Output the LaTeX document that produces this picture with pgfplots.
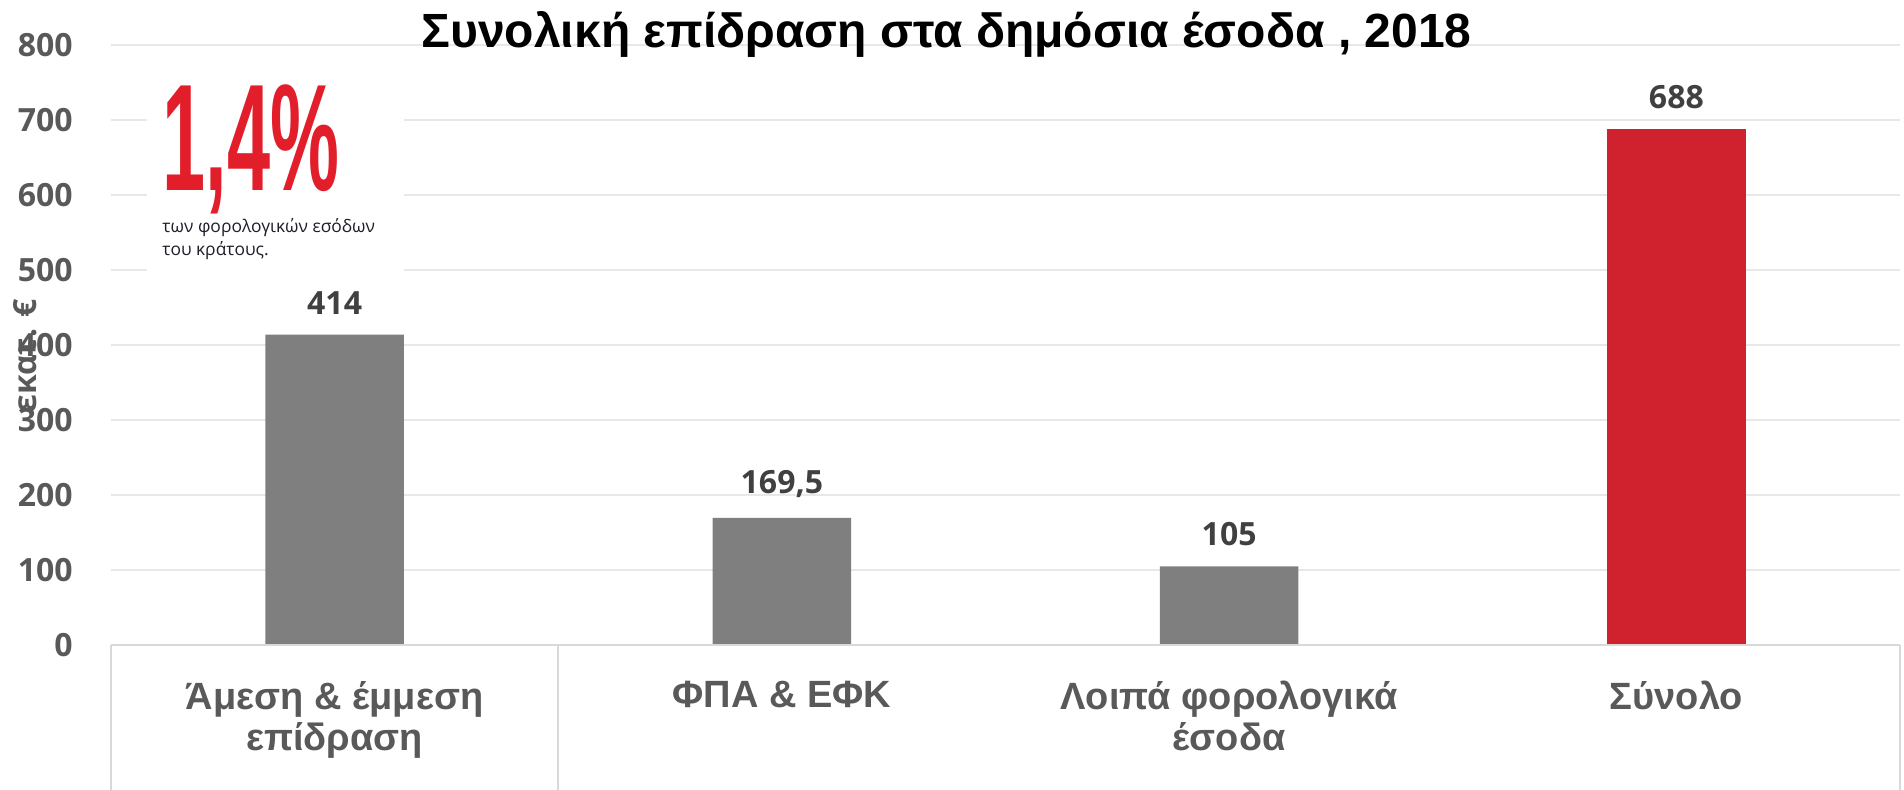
\documentclass[border=0pt]{standalone}
\usepackage{pgfplots}
\pgfplotsset{compat=1.18}
\usepackage{fontspec}
\setmainfont{Liberation Sans}
\newfontfamily\os{Open Sans}

\definecolor{tickgray}{HTML}{595959}
\definecolor{labgray}{HTML}{404040}
\definecolor{gridcol}{HTML}{E8E8E8}
\definecolor{sepcol}{HTML}{D9D9D9}
\definecolor{bargray}{HTML}{7F7F7F}
\definecolor{barred}{HTML}{D0222E}
\definecolor{insetred}{HTML}{E31E2B}
\definecolor{insettext}{HTML}{1F1F2B}

\begin{document}
\begin{tikzpicture}
% picture: 1904x789 px at 0.5pt per px, axis box lower left at (0,0)
\useasboundingbox (-55.5pt,-72pt) rectangle (896.5pt,322.5pt);
\clip (-55.5pt,-72pt) rectangle (896.5pt,322.5pt);
\begin{axis}[
    scale only axis,
    width=894.5pt, height=300pt,
    xmin=-0.5, xmax=3.5,
    ymin=0, ymax=800,
    ytick={0,100,...,800},
    xtick={0,1,2,3},
    xticklabels={{Άμεση \& έμμεση\\επίδραση},{ΦΠΑ \& ΕΦΚ},{Λοιπά φορολογικά\\έσοδα},{Σύνολο}},
    axis line style={draw=none},
    major tick length=0pt,
    ymajorgrids,
    grid style={color=gridcol, line width=0.6pt},
    /pgf/number format/assume math mode=true,
    yticklabel style={font=\os\bfseries\fontsize{16}{16}\selectfont, text=tickgray, inner sep=0pt, xshift=-19pt},
    xticklabel style={font=\bfseries\fontsize{19}{20.5}\selectfont, text=tickgray, align=center, anchor=north, inner sep=0pt, yshift=-18pt},
    clip=false,
    nodes near coords,
    point meta=explicit symbolic,
    every node near coord/.append style={font=\os\bfseries\fontsize{16}{16}\selectfont, text=labgray, anchor=south, inner sep=0pt, yshift=10pt},
]
% white patch behind the 1,4% inset
\fill[white] (axis cs:-0.42,460) rectangle (axis cs:0.155,780);

\addplot[ybar, bar width=0.31, bar shift=0pt, fill=bargray, draw=none]
    coordinates {(0,414) [414] (1,169.5) [169,5] (2,105) [105]};
\addplot[ybar, bar width=0.31, bar shift=0pt, fill=barred, draw=none]
    coordinates {(3,688) [688]};

% baseline and category separators
\draw[sepcol, line width=1pt] (axis cs:-0.5,0) -- (axis cs:3.5,0);
\draw[sepcol, line width=1pt] (axis cs:-0.5,0) -- ([yshift=-80pt]axis cs:-0.5,0);
\draw[sepcol, line width=1pt] (axis cs:0.5,0) -- ([yshift=-80pt]axis cs:0.5,0);
\draw[sepcol, line width=1pt] (axis cs:3.5,0) -- ([yshift=-80pt]axis cs:3.5,0);

% inset
\node[anchor=base west, inner sep=0pt, text=insetred] at (axis cs:-0.386,606)
    {\scalebox{0.51}[1]{\bfseries\fontsize{76}{76}\selectfont 1,4\%}};
\node[anchor=base west, inner sep=0pt, text=insettext, font=\os\fontsize{8.7}{10}\selectfont] at (axis cs:-0.386,550) {των φορολογικών εσόδων};
\node[anchor=base west, inner sep=0pt, text=insettext, font=\os\fontsize{8.7}{10}\selectfont] at (axis cs:-0.386,520) {του κράτους.};

% title
\node[anchor=base, inner sep=0pt, font=\bfseries\fontsize{24}{24}\selectfont] at (axis cs:1.368,797) {Συνολική επίδραση στα δημόσια έσοδα , 2018};
\end{axis}
\node[rotate=90, inner sep=0pt, text=tickgray, font=\os\bfseries\fontsize{16}{16}\selectfont] at (-43pt,144.5pt) {εκατ. €};
\end{tikzpicture}
\end{document}
